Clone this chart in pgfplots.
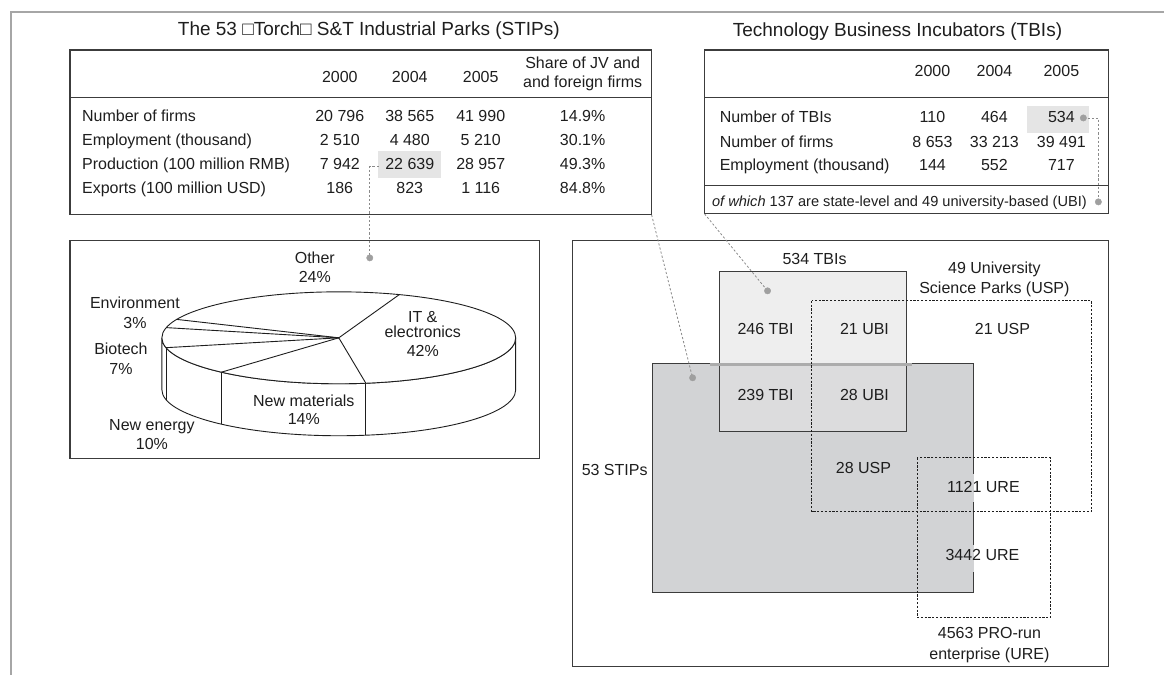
\documentclass[border=0pt]{standalone}
\usepackage{pgfplots}
\pgfplotsset{compat=1.18}
\usepackage{fontspec}
\setmainfont{Liberation Sans}
\definecolor{ink}{HTML}{1E1E1E}
\definecolor{frame}{HTML}{3C3C3C}
\definecolor{hl}{HTML}{E5E5E5}
\definecolor{stip}{HTML}{D2D3D5}
\definecolor{tbi}{HTML}{E3E3E3}
\definecolor{conn}{HTML}{8A8A8A}
\begin{document}
\begin{tikzpicture}[
  t/.style={font=\fontsize{16}{19}\selectfont, text=ink, inner sep=0pt, text height=11.5pt, text depth=0pt},
  tt/.style={font=\fontsize{19}{22}\selectfont, text=ink, inner sep=0pt, text height=13.6pt, text depth=0pt},
  tf/.style={font=\fontsize{14.6}{17}\selectfont, text=ink, inner sep=0pt, text height=10.5pt, text depth=0pt},
  cn/.style={conn, line width=0.8pt, dash pattern=on 2.2pt off 2pt},
  bx/.style={frame, line width=1.1pt},
  pie/.style={ink, line width=0.9pt},
]
\begin{axis}[x=1pt, y=1pt, y dir=reverse, xmin=0, xmax=1165, ymin=0, ymax=675,
  hide axis, clip=false]
\path (axis cs:0,0) rectangle (axis cs:1165,675);
% outer frame
\draw[gray!70, line width=1.4pt] (axis cs:11,675) -- (axis cs:11,12) -- (axis cs:1165,12);

% ---------------- left table ----------------
\fill[hl] (axis cs:378,151) rectangle (axis cs:441,178);
\draw[bx] (axis cs:70,50) rectangle (axis cs:652,215);
\draw[bx] (axis cs:70,98) -- (axis cs:652,98);
\node[tt] at (axis cs:369,29) {The 53 □Torch□ S\&T Industrial Parks (STIPs)};
\node[t] at (axis cs:340,77) {2000};
\node[t] at (axis cs:410,77) {2004};
\node[t] at (axis cs:481,77) {2005};
\node[t] at (axis cs:583,63) {Share of JV and};
\node[t] at (axis cs:583,82) {and foreign firms};
\node[t, anchor=west] at (axis cs:82,116) {Number of firms};
\node[t, anchor=west] at (axis cs:82,140) {Employment (thousand)};
\node[t, anchor=west] at (axis cs:82,164) {Production (100 million RMB)};
\node[t, anchor=west] at (axis cs:82,188) {Exports (100 million USD)};
\node[t] at (axis cs:340,116) {20 796};
\node[t] at (axis cs:410,116) {38 565};
\node[t] at (axis cs:481,116) {41 990};
\node[t] at (axis cs:583,116) {14.9\%};
\node[t] at (axis cs:340,140) {2 510};
\node[t] at (axis cs:410,140) {4 480};
\node[t] at (axis cs:481,140) {5 210};
\node[t] at (axis cs:583,140) {30.1\%};
\node[t] at (axis cs:340,164) {7 942};
\node[t] at (axis cs:410,164) {22 639};
\node[t] at (axis cs:481,164) {28 957};
\node[t] at (axis cs:583,164) {49.3\%};
\node[t] at (axis cs:340,188) {186};
\node[t] at (axis cs:410,188) {823};
\node[t] at (axis cs:481,188) {1 116};
\node[t] at (axis cs:583,188) {84.8\%};

% ---------------- right table ----------------
\fill[hl] (axis cs:1028,106) rectangle (axis cs:1090,133);
\draw[bx] (axis cs:705,50) rectangle (axis cs:1109,214);
\draw[bx] (axis cs:705,98) -- (axis cs:1109,98);
\draw[bx] (axis cs:705,186) -- (axis cs:1109,186);
\node[tt] at (axis cs:898,30) {Technology Business Incubators (TBIs)};
\node[t] at (axis cs:933,71) {2000};
\node[t] at (axis cs:995,71) {2004};
\node[t] at (axis cs:1062,71) {2005};
\node[t, anchor=west] at (axis cs:720,117) {Number of TBIs};
\node[t, anchor=west] at (axis cs:720,142) {Number of firms};
\node[t, anchor=west] at (axis cs:720,165) {Employment (thousand)};
\node[t] at (axis cs:933,117) {110};
\node[t] at (axis cs:995,117) {464};
\node[t] at (axis cs:1062,117) {534};
\node[t] at (axis cs:933,142) {8 653};
\node[t] at (axis cs:995,142) {33 213};
\node[t] at (axis cs:1062,142) {39 491};
\node[t] at (axis cs:933,165) {144};
\node[t] at (axis cs:995,165) {552};
\node[t] at (axis cs:1062,165) {717};
\node[tf] at (axis cs:900,201) {\textit{of which} 137 are state-level and 49 university-based (UBI)};

% ---------------- pie box ----------------
\draw[bx] (axis cs:70,241) rectangle (axis cs:540,459);
% side of the pie
\draw[pie, fill=white] (axis cs:162,338) -- ++(0,-52pt)
   arc[start angle=180, end angle=360, x radius=177pt, y radius=46pt] -- ++(0,52pt)
   arc[start angle=0, end angle=-180, x radius=177pt, y radius=46pt] -- cycle;
% shares (%): IT 42, New materials 14, New energy 10, Biotech 7, Environment 3, Other 24
% boundaries at cumulative shares 0,42,56,66,73,76 ; 3.6 deg per percent, starting at 70 deg
\pgfplotsinvokeforeach{42,56,66}{
  \draw[pie] (axis cs:{339+177*cos(70-3.6*#1)},{338-46*sin(70-3.6*#1)}) -- ++(0,-52pt);
}
\draw[pie, fill=white] (axis cs:339,338) ellipse[x radius=177pt, y radius=46pt];
\pgfplotsinvokeforeach{0,42,56,66,73,76}{
  \draw[pie] (axis cs:339,338) -- (axis cs:{339+177*cos(70-3.6*#1)},{338-46*sin(70-3.6*#1)});
}
\node[t] at (axis cs:315,258) {Other};
\node[t] at (axis cs:315,277) {24\%};
\node[t] at (axis cs:135,303) {Environment};
\node[t] at (axis cs:135,323) {3\%};
\node[t] at (axis cs:121,349) {Biotech};
\node[t] at (axis cs:121,369) {7\%};
\node[t] at (axis cs:152,425) {New energy};
\node[t] at (axis cs:152,444) {10\%};
\node[t] at (axis cs:304,401) {New materials};
\node[t] at (axis cs:304,419) {14\%};
\node[t] at (axis cs:423,317) {IT \&};
\node[t] at (axis cs:423,332) {electronics};
\node[t] at (axis cs:423,351) {42\%};

% ---------------- Venn box ----------------
\draw[bx] (axis cs:573,241) rectangle (axis cs:1109,667);
\draw[frame, line width=1.1pt, fill=stip] (axis cs:653,364) rectangle (axis cs:974,593);
\draw[stip, line width=1.6pt] (axis cs:974,474) -- (axis cs:974,502);
\draw[stip, line width=1.6pt] (axis cs:974,545) -- (axis cs:974,572);
\draw[frame, line width=1.1pt, fill=tbi, fill opacity=0.6] (axis cs:720,272) rectangle (axis cs:907,432);
\draw[gray!65, line width=3pt] (axis cs:710,365) -- (axis cs:913,365);
\draw[ink, line width=1.1pt, dash pattern=on 2.2pt off 1.6pt] (axis cs:812,301) rectangle (axis cs:1092,512);
\draw[ink, line width=1.1pt, dash pattern=on 2.2pt off 1.6pt] (axis cs:918,458) rectangle (axis cs:1051,618);
\node[t] at (axis cs:815,259) {534 TBIs};
\node[t] at (axis cs:995,268) {49 University};
\node[t] at (axis cs:995,288) {Science Parks (USP)};
\node[t] at (axis cs:766,329) {246 TBI};
\node[t] at (axis cs:865,329) {21 UBI};
\node[t] at (axis cs:1003,329) {21 USP};
\node[t] at (axis cs:766,395) {239 TBI};
\node[t] at (axis cs:865,395) {28 UBI};
\node[t] at (axis cs:615,470) {53 STIPs};
\node[t] at (axis cs:864,468) {28 USP};
\node[t] at (axis cs:984,487) {1121 URE};
\node[t] at (axis cs:983,555) {3442 URE};
\node[t] at (axis cs:990,633) {4563 PRO-run};
\node[t] at (axis cs:990,654) {enterprise (URE)};

% ---------------- connectors ----------------
\draw[cn] (axis cs:379,166) -- (axis cs:370,166) -- (axis cs:370,258);
\draw[cn] (axis cs:1084,118) -- (axis cs:1099,118) -- (axis cs:1099,202);
\draw[cn] (axis cs:652,215) -- (axis cs:693,378);
\draw[cn] (axis cs:705,214) -- (axis cs:768,291);
\addplot[only marks, mark=*, mark size=3.2pt, color=gray!75] coordinates {
  (370,258) (1084,118) (1099,202) (768,291) (693,378)
};
\end{axis}
\end{tikzpicture}
\end{document}
